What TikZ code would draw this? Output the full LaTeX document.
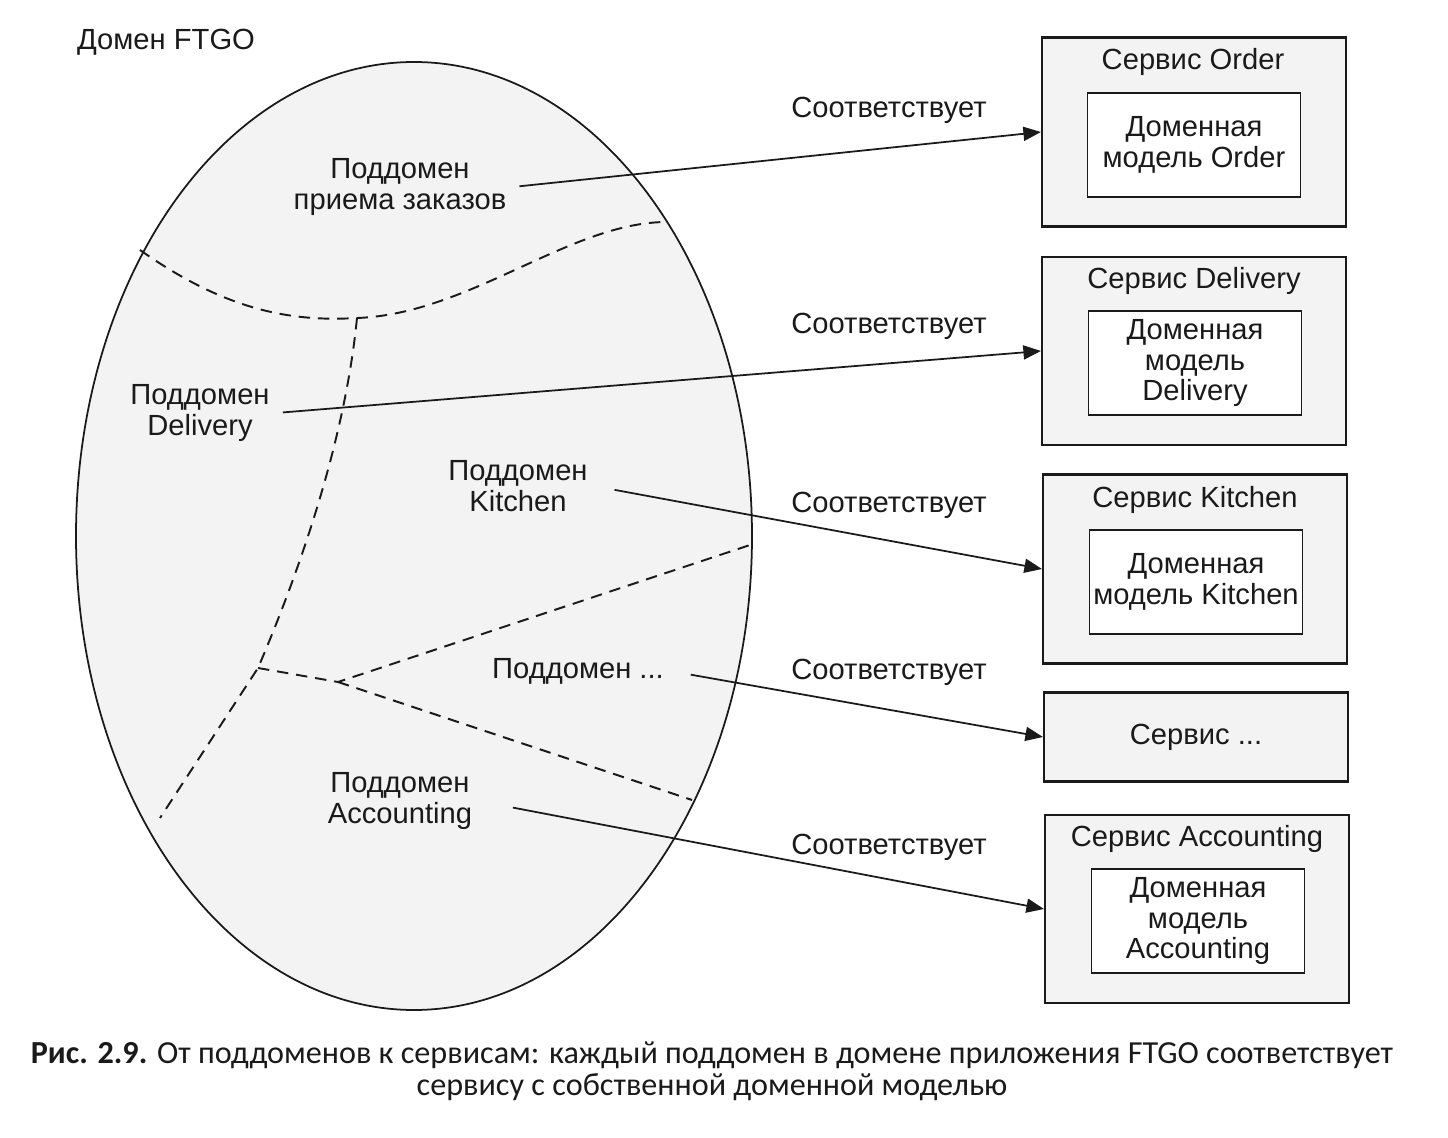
\documentclass[tikz,border=0pt]{standalone}
\usepackage{fontspec}
\setmainfont{Liberation Sans}
\newfontfamily\capfont{Carlito}
\usepackage{xcolor}
\usepackage{tikz}
\usetikzlibrary{arrows.meta,positioning}
\definecolor{paper}{HTML}{F3F3F3}
\definecolor{ink}{HTML}{1A1A1A}

\begin{document}
\begin{tikzpicture}[x=0.02cm, y=-0.02cm,
    txt/.style={font=\fontsize{16.6}{17.4}\selectfont, text=ink, align=center},
    svcbox/.style={draw=ink, fill=paper, line width=1.2pt, minimum width=6.08cm},
    modelbox/.style={draw=ink, fill=white, line width=1.1pt, inner sep=0pt,
                     minimum width=4.26cm, minimum height=2.08cm, txt},
    border/.style={draw=ink, line width=1.1pt, dash pattern=on 6.5pt off 4.5pt},
    maps/.style={draw=ink, line width=1pt, -{Triangle[length=10pt,width=8pt]}}]
  \useasboundingbox (0,0) rectangle (1448,1138);

  % the FTGO domain
  \draw[draw=ink, fill=paper, line width=1pt] (414,536) ellipse [x radius=338, y radius=474];
  \node[txt] (domain) at (166,42) {Домен FTGO};

  % subdomain borders
  \coordinate (bottom) at (357,318);
  \coordinate (fork) at (258,668);
  \coordinate (kink) at (338,682);
  \draw[border] (140,250) .. controls (225,310) and (290,322) .. (bottom)
                .. controls (470,314) and (570,222) .. (667,222);
  \draw[border] (bottom) .. controls (345,440) and (300,570) .. (fork) -- (160,818);
  \draw[border] (fork) -- (kink) -- (750,545);
  \draw[border] (kink) -- (692,800);

  % subdomains
  \node[txt] (orderdom) at (400,187) {Поддомен\\приема заказов};
  \node[txt] (deliverydom) at (200,413) {Поддомен\\Delivery};
  \node[txt] (kitchendom) at (518,486) {Поддомен\\Kitchen};
  \node[txt] (otherdom) at (578,671) {Поддомен ...};
  \node[txt] (accountingdom) at (400,801) {Поддомен\\Accounting};

  % services
  \node[svcbox, minimum height=3.78cm] (ordersvc) at (1194,132) {};
  \node[txt] (ordertitle) at (1193,62) {Сервис Order};
  \node[modelbox] (ordermodel) at (1194,145) {Доменная\\модель Order};

  \node[svcbox, minimum height=3.76cm] (deliverysvc) at (1194,351) {};
  \node[txt] (deliverytitle) at (1194,281) {Сервис Delivery};
  \node[modelbox] (deliverymodel) at (1195,363) {Доменная\\модель\\Delivery};

  \node[svcbox, minimum height=3.78cm] (kitchensvc) at (1195,569) {};
  \node[txt] (kitchentitle) at (1195,500) {Сервис Kitchen};
  \node[modelbox] (kitchenmodel) at (1196,582) {Доменная\\модель Kitchen};

  \node[svcbox, minimum height=1.78cm, txt] (othersvc) at (1196,737) {Сервис ...};

  \node[svcbox, minimum height=3.76cm] (accountingsvc) at (1197,909) {};
  \node[txt] (accountingtitle) at (1197,839) {Сервис Accounting};
  \node[modelbox] (accountingmodel) at (1198,921) {Доменная\\модель\\Accounting};

  % subdomain -> service
  \draw[maps, shorten <=4pt] (orderdom.east) -- (ordersvc.west);
  \draw[maps, shorten <=4pt] (deliverydom.east) -- (deliverysvc.west);
  \draw[maps, shorten <=12pt] (kitchendom.east) -- (kitchensvc.west);
  \draw[maps, shorten <=12pt] (otherdom.east) -- (othersvc.west);
  \draw[maps, shorten <=20pt] (accountingdom.east) -- (accountingsvc.west);

  \node[txt] (ordermaps) at (889,110) {Соответствует};
  \node[txt] (deliverymaps) at (889,326) {Соответствует};
  \node[txt] (kitchenmaps) at (889,505) {Соответствует};
  \node[txt] (othermaps) at (889,672) {Соответствует};
  \node[txt] (accountingmaps) at (889,847) {Соответствует};

  % caption
  \node[font=\capfont\fontsize{18.3}{18.1}\selectfont, text=ink, align=center] (caption) at (712,1071)
    {\textbf{Рис. 2.9.} От поддоменов к сервисам: каждый поддомен в домене приложения FTGO соответствует\\
     сервису с собственной доменной моделью};
\end{tikzpicture}
\end{document}
